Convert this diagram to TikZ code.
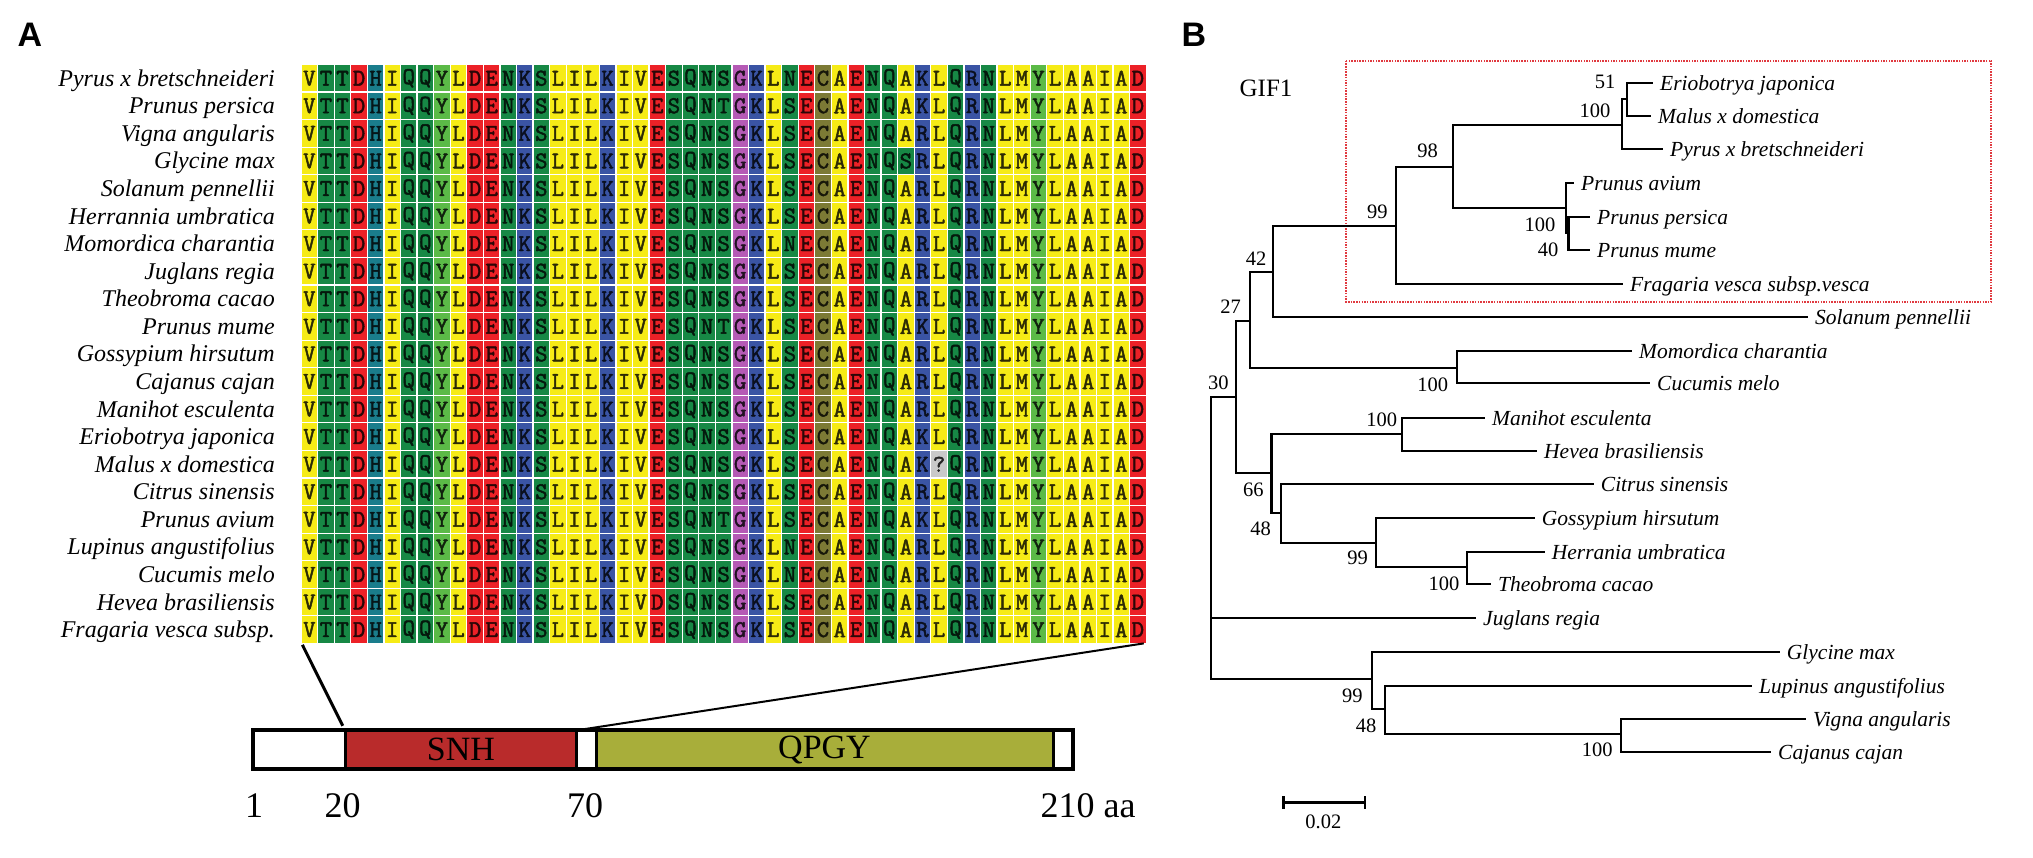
\documentclass[tikz,border=0pt]{standalone}
\usepackage{fontspec}
\setmainfont{Liberation Serif}
\newfontfamily\aamono[FakeBold=2]{Latin Modern Mono}
\newfontfamily\panelsans{Liberation Sans}
\usepackage{xstring}
\definecolor{cY}{HTML}{F6EB16}
\definecolor{cG}{HTML}{178845}
\definecolor{cLG}{HTML}{5BBA47}
\definecolor{cR}{HTML}{EC2127}
\definecolor{cT}{HTML}{1A7D8C}
\definecolor{cB}{HTML}{3A54A4}
\definecolor{cM}{HTML}{B55AB5}
\definecolor{cO}{HTML}{7C7A35}
\definecolor{cX}{HTML}{C9C9C9}
\definecolor{snhred}{HTML}{B92B2B}
\definecolor{qpgyolive}{HTML}{A8AE3A}
\definecolor{boxred}{HTML}{E03A40}
\colorlet{aaV}{cY}\colorlet{aaI}{cY}\colorlet{aaL}{cY}\colorlet{aaA}{cY}\colorlet{aaM}{cY}
\colorlet{aaT}{cG}\colorlet{aaQ}{cG}\colorlet{aaN}{cG}\colorlet{aaS}{cG}
\colorlet{aaD}{cR}\colorlet{aaE}{cR}
\colorlet{aaH}{cT}
\colorlet{aaY}{cLG}
\colorlet{aaK}{cB}\colorlet{aaR}{cB}
\colorlet{aaG}{cM}
\colorlet{aaC}{cO}
\colorlet{aaX}{cX}
\begin{document}
\begin{tikzpicture}[x=1pt,y=-1pt,
  aacell/.style={draw=none, minimum width=15.3pt, minimum height=26.5pt, inner sep=0pt,
    font=\aamono\fontsize{24}{24}\selectfont},
  splab/.style={anchor=east, inner sep=0pt, font=\itshape\fontsize{24}{26}\selectfont,
    text height=19pt, text depth=3pt},
  leaf/.style={anchor=west, inner xsep=7pt, inner ysep=0pt,
    font=\itshape\fontsize{21.5}{24}\selectfont, text height=18pt, text depth=3pt},
  bs/.style={inner sep=0pt, font=\fontsize{20.5}{22}\selectfont},
  branch/.style={line width=2.2pt, line join=miter},
  barseg/.style={draw=black, line width=3pt, anchor=north west, inner sep=0pt, outer sep=0pt,
    minimum height=38.7pt, font=\fontsize{34}{34}\selectfont},
  numlab/.style={inner sep=0pt, font=\fontsize{36}{36}\selectfont},
  panel/.style={inner sep=0pt, font=\panelsans\bfseries\fontsize{34}{34}\selectfont},
  redbox/.style={draw=boxred, line width=2pt, dash pattern=on 1.5pt off 1.2pt}
]
\useasboundingbox (0,0) rectangle (2033,858);

% panel labels
\node[panel] (pA) at (30,34.5) {A};
\node[panel] (pB) at (1194,34.5) {B};

% alignment
\foreach \r/\seq in {
 1/VTTDHIQQYLDENKSLILKIVESQNSGKLNECAENQAKLQRNLMYLAAIAD,
 2/VTTDHIQQYLDENKSLILKIVESQNTGKLSECAENQAKLQRNLMYLAAIAD,
 3/VTTDHIQQYLDENKSLILKIVESQNSGKLSECAENQARLQRNLMYLAAIAD,
 4/VTTDHIQQYLDENKSLILKIVESQNSGKLSECAENQSRLQRNLMYLAAIAD,
 5/VTTDHIQQYLDENKSLILKIVESQNSGKLSECAENQARLQRNLMYLAAIAD,
 6/VTTDHIQQYLDENKSLILKIVESQNSGKLSECAENQARLQRNLMYLAAIAD,
 7/VTTDHIQQYLDENKSLILKIVESQNSGKLNECAENQARLQRNLMYLAAIAD,
 8/VTTDHIQQYLDENKSLILKIVESQNSGKLSECAENQARLQRNLMYLAAIAD,
 9/VTTDHIQQYLDENKSLILKIVESQNSGKLSECAENQARLQRNLMYLAAIAD,
 10/VTTDHIQQYLDENKSLILKIVESQNTGKLSECAENQAKLQRNLMYLAAIAD,
 11/VTTDHIQQYLDENKSLILKIVESQNSGKLSECAENQARLQRNLMYLAAIAD,
 12/VTTDHIQQYLDENKSLILKIVESQNSGKLSECAENQARLQRNLMYLAAIAD,
 13/VTTDHIQQYLDENKSLILKIVESQNSGKLSECAENQARLQRNLMYLAAIAD,
 14/VTTDHIQQYLDENKSLILKIVESQNSGKLSECAENQAKLQRNLMYLAAIAD,
 15/VTTDHIQQYLDENKSLILKIVESQNSGKLSECAENQAKXQRNLMYLAAIAD,
 16/VTTDHIQQYLDENKSLILKIVESQNSGKLSECAENQARLQRNLMYLAAIAD,
 17/VTTDHIQQYLDENKSLILKIVESQNTGKLSECAENQAKLQRNLMYLAAIAD,
 18/VTTDHIQQYLDENKSLILKIVESQNSGKLNECAENQARLQRNLMYLAAIAD,
 19/VTTDHIQQYLDENKSLILKIVESQNSGKLNECAENQARLQRNLMYLAAIAD,
 20/VTTDHIQQYLDENKSLILKIVDSQNSGKLSECAENQARLQRNLMYLAAIAD,
 21/VTTDHIQQYLDENKSLILKIVESQNSGKLSECAENQARLQRNLMYLAAIAD} {
  \foreach \c in {1,...,51} {
    \StrChar{\seq}{\c}[\ch]
    \edef\cc{aa\ch}
    \node[aacell, fill=\cc, text=\cc!18!black] (cell-\r-\c)
      at ({301.7+16.57*(\c-1)+7.65}, {65+27.57*(\r-1)+13.25}) {\IfStrEq{\ch}{X}{?}{\ch}};
  }
}

\foreach \r/\nm in {1/Pyrus x bretschneideri, 2/Prunus persica, 3/Vigna angularis,
 4/Glycine max, 5/Solanum pennellii, 6/Herrannia umbratica, 7/Momordica charantia,
 8/Juglans regia, 9/Theobroma cacao, 10/Prunus mume, 11/Gossypium hirsutum,
 12/Cajanus cajan, 13/Manihot esculenta, 14/Eriobotrya japonica, 15/Malus x domestica,
 16/Citrus sinensis, 17/Prunus avium, 18/Lupinus angustifolius, 19/Cucumis melo,
 20/Hevea brasiliensis, 21/Fragaria vesca subsp.} {
  \node[splab] (lab-\r) at (275, {65+27.57*(\r-1)+13.25}) {\nm};
}

% domain bar
\node[barseg, fill=white, minimum width=92.3pt] (sega) at (252.7,730.3) {};
\node[barseg, fill=snhred, minimum width=231.7pt] (snh) at (345,730.3) {SNH};
\node[barseg, fill=white, minimum width=19.3pt] (segb) at (576.7,730.3) {};
\node[barseg, fill=qpgyolive, minimum width=457pt] (qpgy) at (596,730.3) {QPGY};
\node[barseg, fill=white, minimum width=20pt] (segc) at (1053,730.3) {};
\draw[line width=4pt] (sega.north west) rectangle (segc.south east);

\node[numlab] (p1) at (254,805.7) {1};
\node[numlab] (p20) at (342.7,805.7) {20};
\node[numlab] (p70) at (585,805.7) {70};
\node[numlab] (p210) at (1088,805.7) {210 aa};

\draw[line width=3pt, shorten >=5pt, shorten <=2pt] (cell-21-1.south west) -- (snh.north west);
\draw[line width=2pt, shorten <=4pt, shorten >=2pt] (snh.north east) -- (cell-21-51.south east);

% tree
\node[font=\fontsize{25}{25}\selectfont, inner sep=0pt] (gif) at (1266,88.3) {GIF1};
\draw[redbox] (1346,60.7) rectangle (1991.3,301.7);

\coordinate (root) at (1211,538);
\coordinate (n30) at (1235.7,396.7);
\coordinate (n27) at (1250,321);
\coordinate (n42) at (1273.3,272.3);
\coordinate (n99) at (1395.7,225.7);
\coordinate (n98) at (1452.7,166.7);
\coordinate (nPy) at (1622.3,125.3);
\coordinate (n51) at (1626.7,99.3);
\coordinate (nPr) at (1566,208.3);
\coordinate (n40) at (1568.5,233.3);
\coordinate (nMC) at (1456.7,367.7);
\coordinate (n66) at (1271.5,473.3);
\coordinate (nMH) at (1402.3,434.3);
\coordinate (n48a) at (1280.7,513.3);
\coordinate (n99b) at (1376,543.3);
\coordinate (nHT) at (1466.7,567.3);
\coordinate (nB) at (1371.7,679.3);
\coordinate (n48b) at (1385,709.3);
\coordinate (nVC) at (1621,734.3);

\node[leaf] (l-eri) at (1653,82.7) {Eriobotrya japonica};
\node[leaf] (l-mal) at (1651,116) {Malus x domestica};
\node[leaf] (l-pyr) at (1663,149) {Pyrus x bretschneideri};
\node[leaf] (l-avi) at (1574,183.3) {Prunus avium};
\node[leaf] (l-per) at (1590,216.7) {Prunus persica};
\node[leaf] (l-mum) at (1590,250) {Prunus mume};
\node[leaf] (l-fra) at (1623,284.3) {Fragaria vesca subsp.vesca};
\node[leaf] (l-sol) at (1808,316.7) {Solanum pennellii};
\node[leaf] (l-mom) at (1632,351) {Momordica charantia};
\node[leaf] (l-cuc) at (1650,383.3) {Cucumis melo};
\node[leaf] (l-man) at (1485,417.7) {Manihot esculenta};
\node[leaf] (l-hev) at (1537,450.7) {Hevea brasiliensis};
\node[leaf] (l-cit) at (1593.7,484.3) {Citrus sinensis};
\node[leaf] (l-gos) at (1534.7,518.3) {Gossypium hirsutum};
\node[leaf] (l-her) at (1544.7,551.7) {Herrania umbratica};
\node[leaf] (l-the) at (1491,584) {Theobroma cacao};
\node[leaf] (l-jug) at (1476,618.3) {Juglans regia};
\node[leaf] (l-gly) at (1779.7,651.7) {Glycine max};
\node[leaf] (l-lup) at (1752,685.7) {Lupinus angustifolius};
\node[leaf] (l-vig) at (1806,719.3) {Vigna angularis};
\node[leaf] (l-caj) at (1771,751.7) {Cajanus cajan};

\draw[branch] (root) |- (n30);
\draw[branch] (root) |- (l-jug.west);
\draw[branch] (root) |- (nB);
\draw[branch] (n30) |- (n27);
\draw[branch] (n30) |- (n66);
\draw[branch] (n27) |- (n42);
\draw[branch] (n27) |- (nMC);
\draw[branch] (n42) |- (n99);
\draw[branch] (n42) |- (l-sol.west);
\draw[branch] (n99) |- (n98);
\draw[branch] (n99) |- (l-fra.west);
\draw[branch] (n98) |- (nPy);
\draw[branch] (n98) |- (nPr);
\draw[branch] (nPy) |- (n51);
\draw[branch] (nPy) |- (l-pyr.west);
\draw[branch] (n51) |- (l-eri.west);
\draw[branch] (n51) |- (l-mal.west);
\draw[branch] (nPr) |- (l-avi.west);
\draw[branch] (nPr) |- (n40);
\draw[branch] (n40) |- (l-per.west);
\draw[branch] (n40) |- (l-mum.west);
\draw[branch] (nMC) |- (l-mom.west);
\draw[branch] (nMC) |- (l-cuc.west);
\draw[branch] (n66) |- (nMH);
\draw[branch] (n66) |- (n48a);
\draw[branch] (nMH) |- (l-man.west);
\draw[branch] (nMH) |- (l-hev.west);
\draw[branch] (n48a) |- (l-cit.west);
\draw[branch] (n48a) |- (n99b);
\draw[branch] (n99b) |- (l-gos.west);
\draw[branch] (n99b) |- (nHT);
\draw[branch] (nHT) |- (l-her.west);
\draw[branch] (nHT) |- (l-the.west);
\draw[branch] (nB) |- (l-gly.west);
\draw[branch] (nB) |- (n48b);
\draw[branch] (n48b) |- (l-lup.west);
\draw[branch] (n48b) |- (nVC);
\draw[branch] (nVC) |- (l-vig.west);
\draw[branch] (nVC) |- (l-caj.west);

% bootstrap values
\node[bs] (b1) at (1605,81.7) {51};
\node[bs] (b2) at (1595,110.7) {100};
\node[bs] (b3) at (1427.7,151) {98};
\node[bs] (b4) at (1377.3,211.7) {99};
\node[bs] (b5) at (1540,225) {100};
\node[bs] (b6) at (1548,249.3) {40};
\node[bs] (b7) at (1256,259) {42};
\node[bs] (b8) at (1230.7,306.7) {27};
\node[bs] (b9) at (1218.3,382.7) {30};
\node[bs] (b10) at (1432.7,385) {100};
\node[bs] (b11) at (1381.7,419.3) {100};
\node[bs] (b12) at (1253.3,490) {66};
\node[bs] (b13) at (1260.7,529) {48};
\node[bs] (b14) at (1357.7,557.7) {99};
\node[bs] (b15) at (1444,584) {100};
\node[bs] (b16) at (1352.3,695.7) {99};
\node[bs] (b17) at (1366,725.7) {48};
\node[bs] (b18) at (1597.3,750) {100};

% scale bar
\coordinate (sbl) at (1283.3,802.7);
\coordinate (sbr) at (1365,802.7);
\draw[line width=2.5pt] (sbl) -- (sbr);
\draw[line width=2.5pt] ([yshift=6.5pt]sbl) -- ([yshift=-6.5pt]sbl);
\draw[line width=2.5pt] ([yshift=6.5pt]sbr) -- ([yshift=-6.5pt]sbr);
\node[bs] (sblab) at (1323.3,822) {0.02};
\end{tikzpicture}
\end{document}
